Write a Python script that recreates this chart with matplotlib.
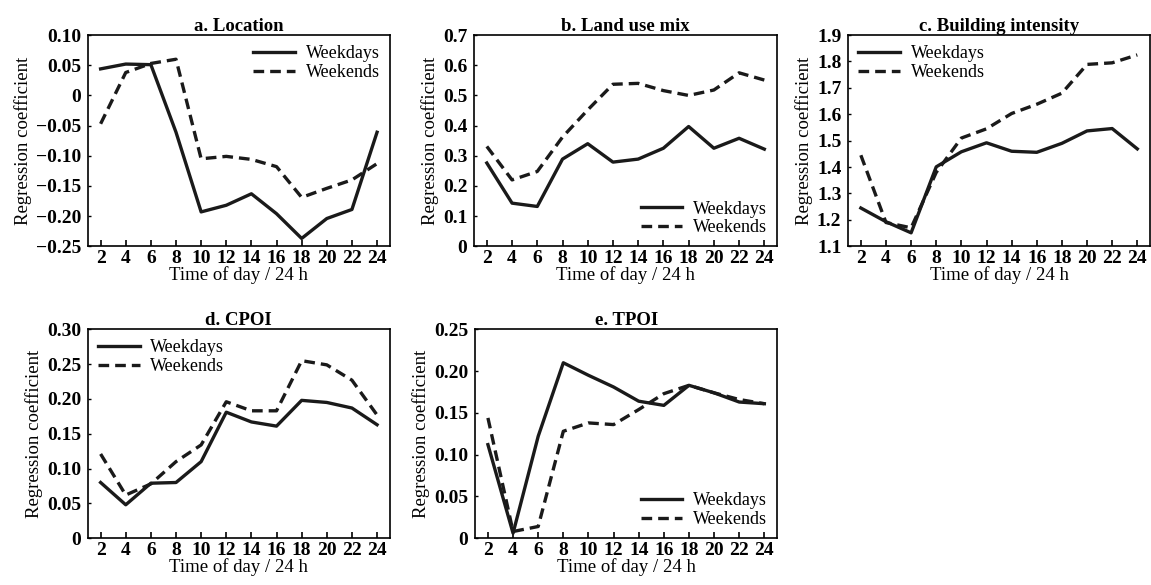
import matplotlib
matplotlib.use('Agg')
import matplotlib.pyplot as plt
import numpy as np

plt.rcParams['font.family'] = ['Liberation Serif', 'DejaVu Serif']
plt.rcParams['axes.unicode_minus'] = True

hours = [2, 4, 6, 8, 10, 12, 14, 16, 18, 20, 22, 24]

# a. Location
loc_wd = [0.044, 0.052, 0.051, -0.061, -0.193, -0.182, -0.163, -0.196, -0.237, -0.204, -0.189, -0.061]
loc_we = [-0.047, 0.038, 0.053, 0.060, -0.105, -0.101, -0.106, -0.118, -0.169, -0.154, -0.140, -0.113]
# b. Land use mix
mix_wd = [0.276, 0.143, 0.132, 0.289, 0.340, 0.279, 0.289, 0.325, 0.397, 0.325, 0.358, 0.322]
mix_we = [0.331, 0.220, 0.248, 0.362, 0.452, 0.537, 0.540, 0.516, 0.500, 0.518, 0.575, 0.551]
# c. Building intensity
bld_wd = [1.245, 1.193, 1.151, 1.401, 1.458, 1.492, 1.460, 1.456, 1.490, 1.537, 1.546, 1.469]
bld_we = [1.445, 1.190, 1.170, 1.380, 1.510, 1.545, 1.603, 1.638, 1.680, 1.789, 1.795, 1.825]
# d. CPOI
cpoi_wd = [0.080, 0.048, 0.079, 0.080, 0.110, 0.181, 0.167, 0.161, 0.198, 0.195, 0.187, 0.163]
cpoi_we = [0.121, 0.062, 0.078, 0.110, 0.134, 0.196, 0.183, 0.183, 0.255, 0.249, 0.227, 0.177]
# e. TPOI
tpoi_wd = [0.112, 0.006, 0.122, 0.210, 0.195, 0.181, 0.164, 0.159, 0.183, 0.174, 0.163, 0.161]
tpoi_we = [0.144, 0.008, 0.014, 0.128, 0.138, 0.136, 0.154, 0.173, 0.183, 0.174, 0.166, 0.161]

panels = [
    ('a. Location', loc_wd, loc_we, (-0.25, 0.10), np.arange(-0.25, 0.101, 0.05), '{:.2f}', 'upper right'),
    ('b. Land use mix', mix_wd, mix_we, (0, 0.7), np.arange(0, 0.71, 0.1), '{:.1f}', 'lower right'),
    ('c. Building intensity', bld_wd, bld_we, (1.1, 1.9), np.arange(1.1, 1.91, 0.1), '{:.1f}', 'upper left'),
    ('d. CPOI', cpoi_wd, cpoi_we, (0, 0.30), np.arange(0, 0.301, 0.05), '{:.2f}', 'upper left'),
    ('e. TPOI', tpoi_wd, tpoi_we, (0, 0.25), np.arange(0, 0.251, 0.05), '{:.2f}', 'lower right'),
]

positions = [
    [0.0765, 0.579, 0.262, 0.361],
    [0.412, 0.579, 0.263, 0.361],
    [0.737, 0.579, 0.262, 0.361],
    [0.0765, 0.080, 0.262, 0.357],
    [0.413, 0.080, 0.262, 0.357],
]

def fmt(v, f):
    if abs(v) < 1e-9:
        return '0'
    s = f.format(v)
    return s.replace('-', '\u2212')

fig = plt.figure(figsize=(11.51, 5.85), dpi=100)

for (title, wd, we, ylim, yt, f, loc), pos in zip(panels, positions):
    ax = fig.add_axes(pos)
    ax.plot(hours, wd, color='#1a1a1a', lw=2.4, label='Weekdays')
    ax.plot(hours, we, color='#1a1a1a', lw=2.4, dashes=(3.2, 1.8), label='Weekends')
    ax.set_xlim(1, 25)
    ax.set_ylim(*ylim)
    ax.set_xticks(hours)
    ax.set_xticklabels([str(h) for h in hours], fontsize=14, fontweight='bold')
    ax.set_yticks(yt)
    ax.set_yticklabels([fmt(v, f) for v in yt], fontsize=14, fontweight='bold')
    ax.tick_params(axis='x', direction='in', length=4, width=1.2, pad=3)
    ax.tick_params(axis='y', direction='in', length=2, width=1.0, pad=5)
    for sp in ax.spines.values():
        sp.set_linewidth(1.2)
    ax.set_title(title, fontsize=13.5, fontweight='bold', pad=3)
    ax.set_xlabel('Time of day / 24 h', fontsize=13.5, labelpad=-1)
    ax.set_ylabel('Regression coefficient', fontsize=13.5, labelpad=3)
    ax.legend(loc=loc, frameon=False, fontsize=13, handlelength=2.3,
              borderaxespad=0.35, labelspacing=0.1, handletextpad=0.6,
              borderpad=0.2)

plt.savefig('out.png', dpi=100)
plt.close()
